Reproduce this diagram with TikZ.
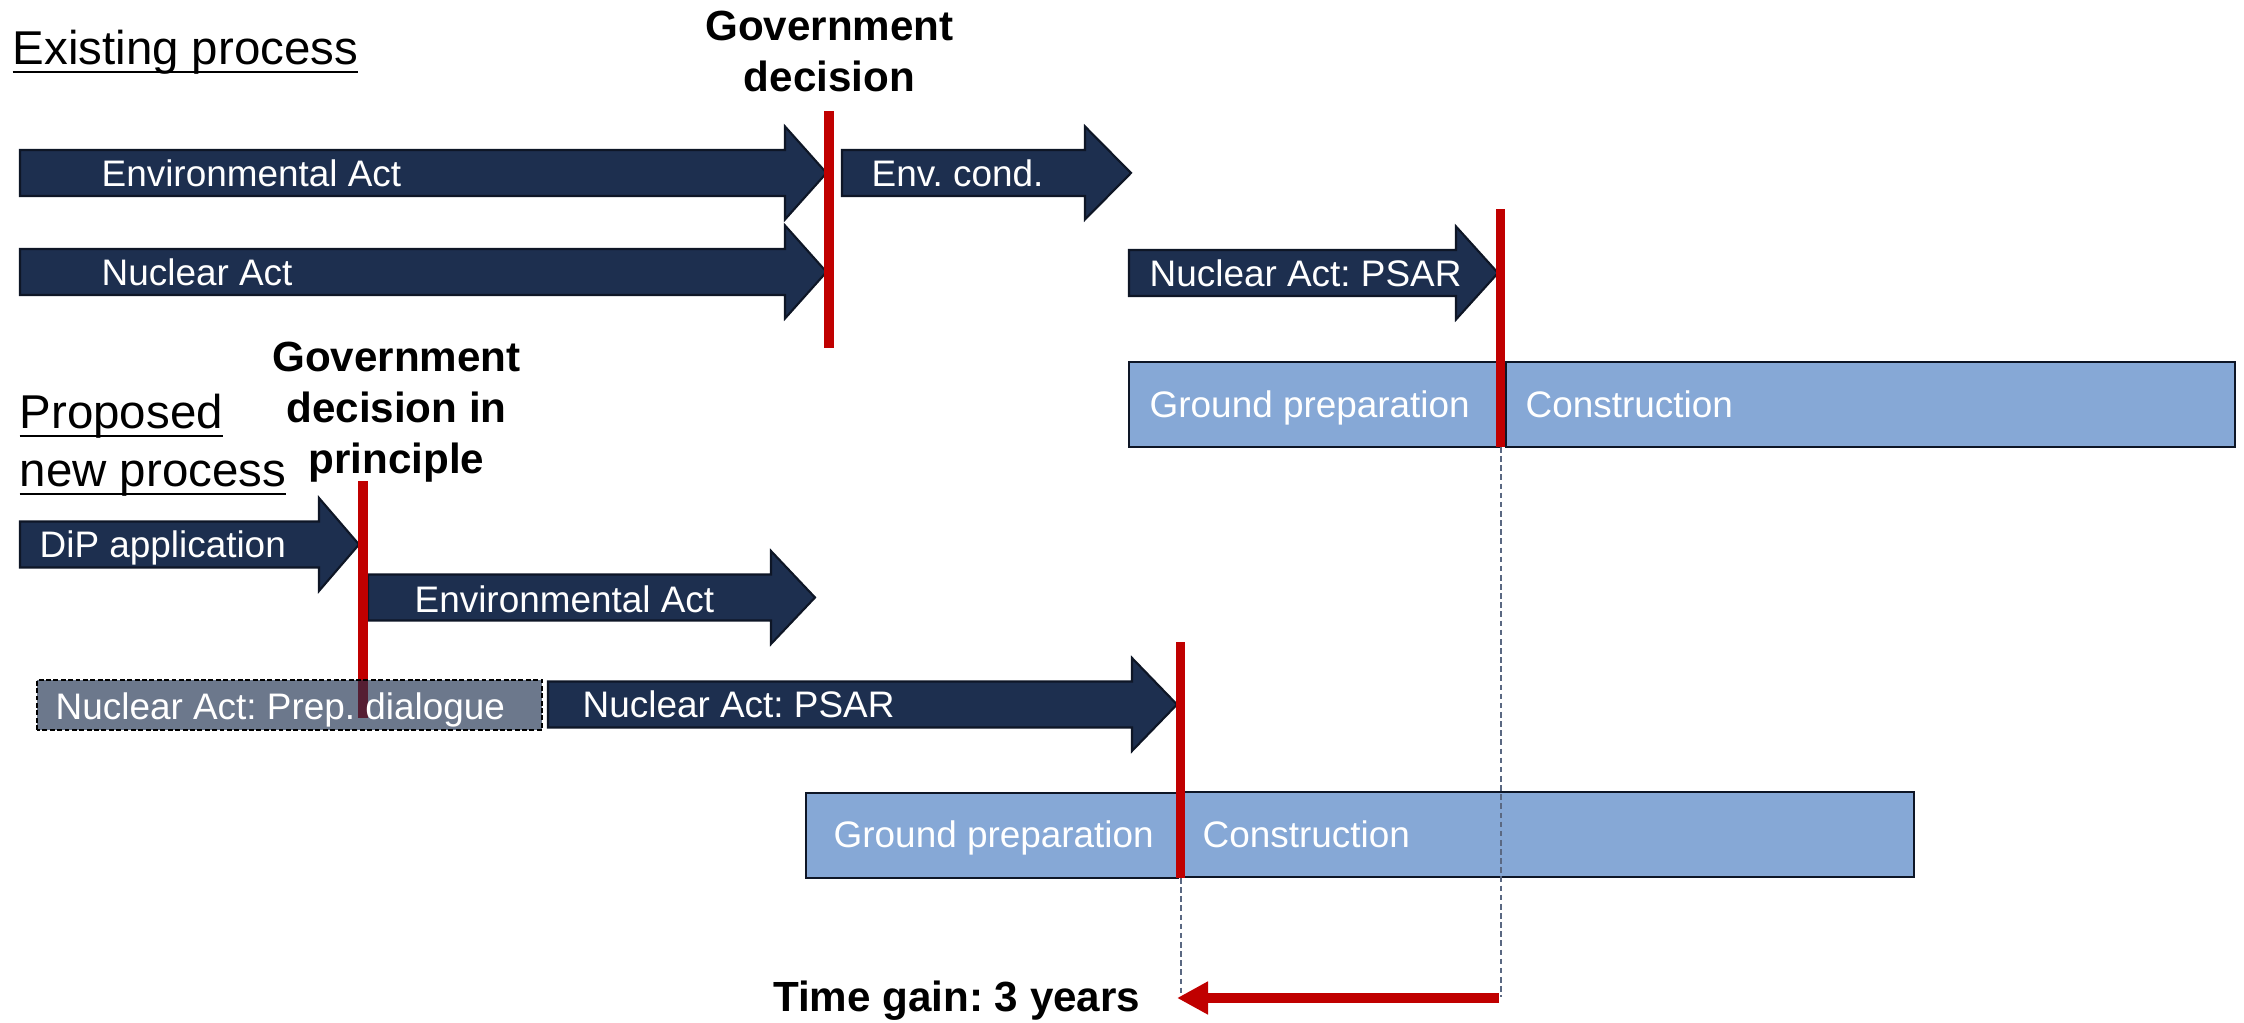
\documentclass[tikz,border=0pt]{standalone}
\usepackage{fontspec}
\setmainfont{Liberation Sans}
\frenchspacing
\usetikzlibrary{arrows.meta}
\definecolor{navy}{RGB}{29,47,79}
\definecolor{navyline}{RGB}{14,22,38}
\definecolor{skyfill}{RGB}{134,168,214}
\definecolor{decred}{RGB}{192,0,0}
\definecolor{guidegray}{RGB}{90,104,130}
\newcommand{\undl}[1]{\setbox0\hbox{#1}\rlap{\rule[-0.082cm]{\wd0}{0.7pt}}\box0}
\newcommand{\actshape}[4]{% left, head base, tip, mid y
  \draw[actarrow] (#1,#4-0.23) -- (#2,#4-0.23) -- (#2,#4-0.465) -- (#3,#4)
    -- (#2,#4+0.465) -- (#2,#4+0.23) -- (#1,#4+0.23) -- cycle;}
\tikzset{
  actarrow/.style={draw=navyline, line width=0.6pt, fill=navy},
  phasebox/.style={draw=navyline, line width=0.8pt, fill=skyfill},
  prepbox/.style={draw=black, line width=0.7pt, dash pattern=on 1.4pt off 0.7pt,
    fill=navy, fill opacity=0.65},
  inlabel/.style={text=white, font=\fontsize{10.5}{12.6}\selectfont, inner sep=0pt,
    anchor=west, text height=7.5pt, text depth=0pt},
  decline/.style={draw=decred, line width=2.6pt},
  guide/.style={draw=guidegray, line width=0.45pt, dash pattern=on 1.6pt off 1pt},
  gainarrow/.style={draw=decred, line width=2.85pt, -{Triangle[length=0.31cm, width=0.31cm]}},
  heading/.style={font=\fontsize{13.5}{16.5}\selectfont, inner sep=0pt, anchor=base west},
  milestone/.style={font=\bfseries\fontsize{12}{14.5}\selectfont, align=center, inner sep=0pt},
}
\begin{document}
\begin{tikzpicture}
\useasboundingbox (0,0) rectangle (22.44,10.23);
% Existing process
\node[heading] (oldHead) at (0.12,9.58) {\undl{Existing process}};
\node[milestone, anchor=north] (govDec) at (8.295,10.13) {Government\\decision};
\actshape{0.20}{7.85}{8.265}{8.50}
\node[inlabel] (envAct) at (1.01,8.50) {Environmental Act};
\actshape{0.20}{7.85}{8.265}{7.51}
\node[inlabel] (nucAct) at (1.01,7.51) {Nuclear Act};
\actshape{8.42}{10.85}{11.31}{8.50}
\node[inlabel] (envCond) at (8.71,8.50) {Env. cond.};
\actshape{11.29}{14.56}{14.98}{7.50}
\node[inlabel] (psarOld) at (11.49,7.50) {Nuclear Act: PSAR};
\draw[phasebox] (11.29,5.76) rectangle (15.01,6.61);
\node[inlabel] (groundOld) at (11.49,6.185) {Ground preparation};
\draw[phasebox] (15.06,5.76) rectangle (22.35,6.61);
\node[inlabel] (constrOld) at (15.25,6.185) {Construction};
\draw[decline] (8.29,6.75) -- (8.29,9.12);
\draw[decline] (15.005,5.76) -- (15.005,8.14);
% Proposed new process
\node[heading] (propHead) at (0.19,5.94) {\undl{Proposed}};
\node[heading] (propHead2) at (0.19,5.36) {\undl{new process}};
\node[milestone, anchor=north] (govDiP) at (3.965,6.82) {Government\\decision in\\principle};
\actshape{0.20}{3.19}{3.59}{4.785}
\node[inlabel] (dipApp) at (0.39,4.79) {DiP application};
\actshape{3.68}{7.71}{8.15}{4.255}
\node[inlabel] (envNew) at (4.14,4.24) {Environmental Act};
\draw[decline] (3.63,3.05) -- (3.63,5.42);
\draw[prepbox] (0.37,2.93) rectangle (5.42,3.43);
\node[inlabel] (prepDia) at (0.55,3.17) {Nuclear Act: Prep. dialogue};
\actshape{5.48}{11.32}{11.77}{3.185}
\node[inlabel] (psarNew) at (5.82,3.185) {Nuclear Act: PSAR};
\draw[phasebox] (8.06,1.45) rectangle (11.78,2.30);
\node[inlabel] (groundNew) at (8.33,1.89) {Ground preparation};
\draw[phasebox] (11.82,1.46) rectangle (19.14,2.31);
\node[inlabel] (constrNew) at (12.02,1.89) {Construction};
\draw[decline] (11.805,1.45) -- (11.805,3.81);
% Time gain
\coordinate (oldStart) at (15.01,5.76);
\coordinate (newStart) at (11.81,1.45);
\coordinate (gainR) at (14.99,0.25);
\coordinate (gainL) at (11.77,0.25);
\draw[guide] (oldStart) -- ++(0,-5.50);
\draw[guide] (newStart) -- ++(0,-1.19);
\draw[gainarrow] (gainR) -- (gainL);
\node[milestone, anchor=base east] (gain) at (11.41,0.11) {Time gain: 3 years};
\end{tikzpicture}
\end{document}
